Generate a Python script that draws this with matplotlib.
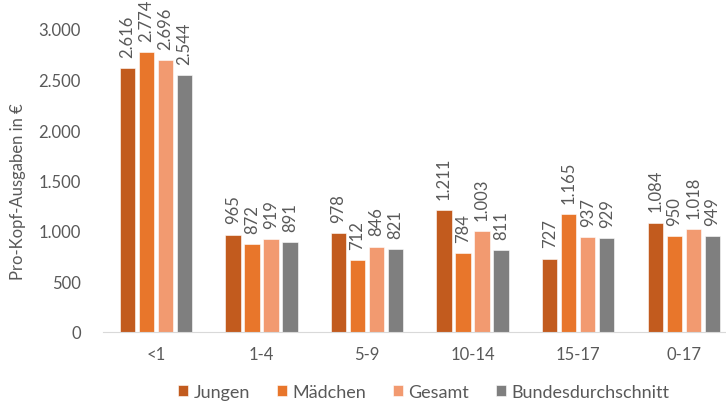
import numpy as np
import matplotlib.pyplot as plt

# Daten
kategorien = ['<1', '1-4', '5-9', '10-14', '15-17', '0-17']
jungen = [2616, 965, 978, 1211, 727, 1084]
maedchen = [2774, 872, 712, 784, 1165, 950]
gesamt = [2696, 919, 846, 1003, 937, 1018]
bund = [2544, 891, 821, 811, 929, 949]

serien = [jungen, maedchen, gesamt, bund]
namen = ['Jungen', 'Mädchen', 'Gesamt', 'Bundesdurchschnitt']
farben = ['#C25B1E', '#E8762B', '#F29A70', '#7F7F7F']

plt.rcParams['font.family'] = ['Lato', 'DejaVu Sans']
grau = '#595959'

def punkt(v):
    return f'{v:,}'.replace(',', '.')

fig = plt.figure(figsize=(7.26, 4.02), dpi=100)
ax = fig.add_axes([103 / 726, 69 / 402, 623 / 726, 303 / 402])

x = np.arange(len(kategorien))
breite = 0.145
abstand = 0.18
for i in range(len(serien)):
    pos = x + (i - 1.5) * abstand
    ax.bar(pos, serien[i], width=breite, color=farben[i], label=namen[i],
           edgecolor='white', linewidth=0.4)
    for p, v in zip(pos, serien[i]):
        ax.annotate(punkt(v), (p, v), xytext=(0, 8), textcoords='offset points',
                    rotation=90, ha='center', va='bottom',
                    fontsize=12, color=grau, annotation_clip=False)

ax.set_xlim(-0.5, 5.4)
ax.set_ylim(0, 3000)
ax.set_yticks(range(0, 3001, 500))
ax.set_yticklabels([punkt(v) for v in range(0, 3001, 500)])
ax.set_xticks(x)
ax.set_xticklabels(kategorien)
ax.tick_params(axis='both', length=0, labelsize=12, colors=grau)
ax.tick_params(axis='y', pad=16)
ax.tick_params(axis='x', pad=10)

for s in ['top', 'right', 'left']:
    ax.spines[s].set_visible(False)
ax.spines['bottom'].set_color('#D9D9D9')

fig.text(18 / 726, 1 - 192 / 402, 'Pro-Kopf-Ausgaben in €', rotation=90,
         ha='center', va='center', fontsize=12, color=grau)

ax.legend(loc='center', bbox_to_anchor=(424 / 726, 9 / 402), bbox_transform=fig.transFigure,
          ncol=4, frameon=False, fontsize=13, labelcolor=grau,
          handlelength=0.55, handleheight=0.55, handletextpad=0.3, columnspacing=1.5)

fig.savefig('out.png', dpi=100)
